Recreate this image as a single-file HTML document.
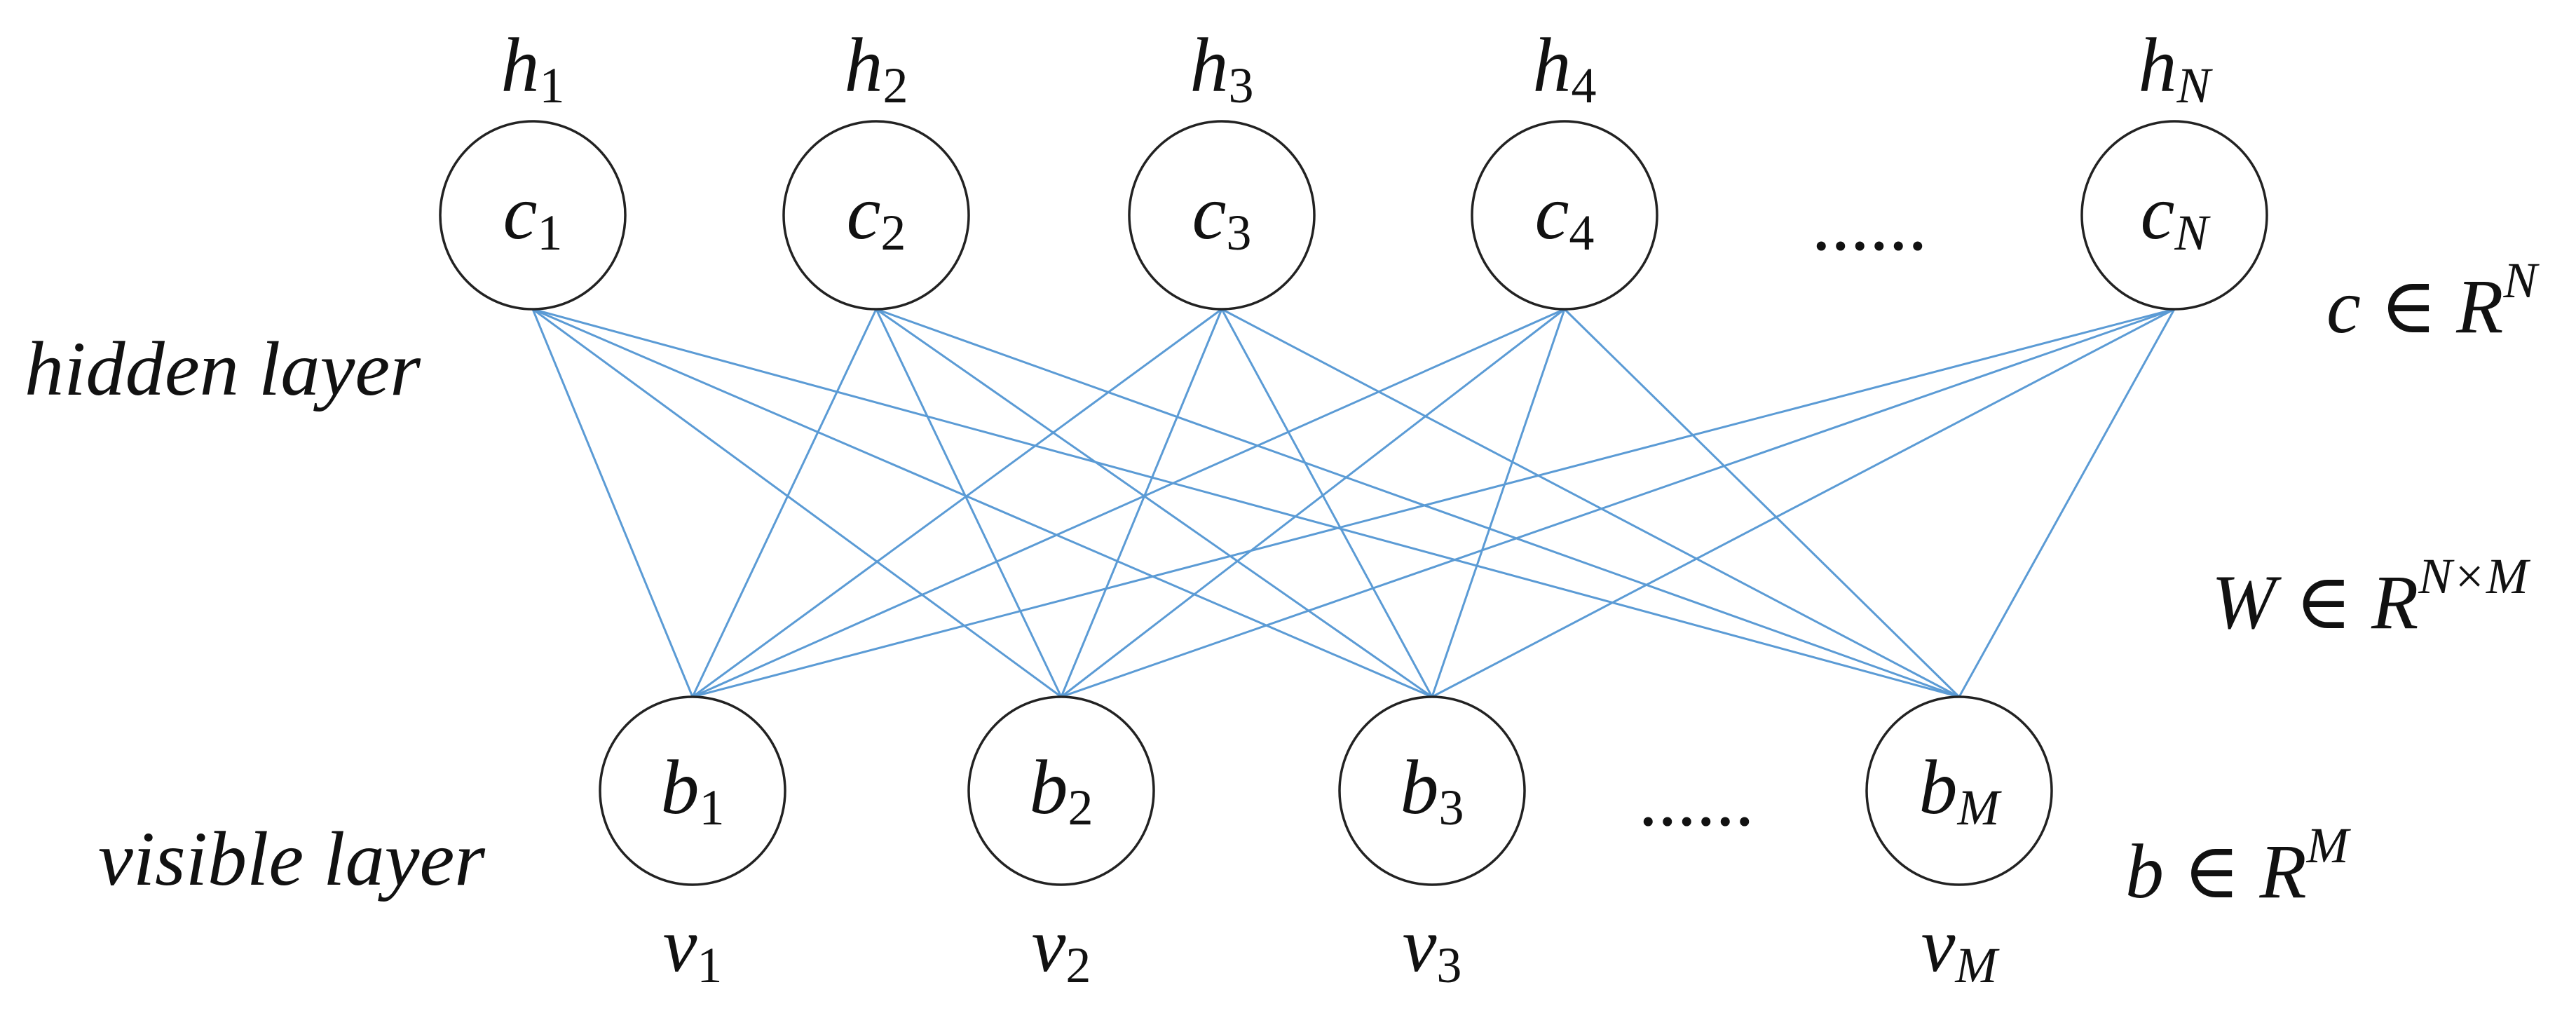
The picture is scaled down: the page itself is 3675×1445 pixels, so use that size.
<!DOCTYPE html>
<html><head><meta charset="utf-8"><style>html,body{margin:0;padding:0;background:#fff}svg{display:block}text,tspan{font-family:'Liberation Serif','DejaVu Serif',serif}.s{font-size:72px}</style></head>
<body>
<svg width="3675" height="1445" viewBox="0 0 3675 1445" xmlns="http://www.w3.org/2000/svg" font-size="110" font-family="'Liberation Serif', 'DejaVu Serif', serif">
<g stroke="#5b9bd5" stroke-width="3">
<line x1="760" y1="441" x2="988" y2="994"/><line x1="760" y1="441" x2="1514" y2="994"/><line x1="760" y1="441" x2="2043" y2="994"/><line x1="760" y1="441" x2="2795" y2="994"/>
<line x1="1250" y1="441" x2="988" y2="994"/><line x1="1250" y1="441" x2="1514" y2="994"/><line x1="1250" y1="441" x2="2043" y2="994"/><line x1="1250" y1="441" x2="2795" y2="994"/>
<line x1="1743" y1="441" x2="988" y2="994"/><line x1="1743" y1="441" x2="1514" y2="994"/><line x1="1743" y1="441" x2="2043" y2="994"/><line x1="1743" y1="441" x2="2795" y2="994"/>
<line x1="2232" y1="441" x2="988" y2="994"/><line x1="2232" y1="441" x2="1514" y2="994"/><line x1="2232" y1="441" x2="2043" y2="994"/><line x1="2232" y1="441" x2="2795" y2="994"/>
<line x1="3102" y1="441" x2="988" y2="994"/><line x1="3102" y1="441" x2="1514" y2="994"/><line x1="3102" y1="441" x2="2043" y2="994"/><line x1="3102" y1="441" x2="2795" y2="994"/>
</g>
<g fill="none" stroke="#222" stroke-width="3.5">
<ellipse cx="760" cy="307" rx="132" ry="134"/><ellipse cx="1250" cy="307" rx="132" ry="134"/><ellipse cx="1743" cy="307" rx="132" ry="134"/><ellipse cx="2232" cy="307" rx="132" ry="134"/><ellipse cx="3102" cy="307" rx="132" ry="134"/>
<ellipse cx="988" cy="1128" rx="132" ry="134"/><ellipse cx="1514" cy="1128" rx="132" ry="134"/><ellipse cx="2043" cy="1128" rx="132" ry="134"/><ellipse cx="2795" cy="1128" rx="132" ry="134"/>
</g>
<g fill="#111" text-anchor="middle">
<text x="760" y="130"><tspan font-style="italic">h</tspan><tspan class="s" dy="16">1</tspan></text>
<text x="1250" y="130"><tspan font-style="italic">h</tspan><tspan class="s" dy="16">2</tspan></text>
<text x="1743" y="130"><tspan font-style="italic">h</tspan><tspan class="s" dy="16">3</tspan></text>
<text x="2232" y="130"><tspan font-style="italic">h</tspan><tspan class="s" dy="16">4</tspan></text>
<text x="3102" y="130"><tspan font-style="italic">h</tspan><tspan class="s" font-style="italic" dy="16">N</tspan></text>
<text x="760" y="340"><tspan font-style="italic">c</tspan><tspan class="s" dy="16">1</tspan></text>
<text x="1250" y="340"><tspan font-style="italic">c</tspan><tspan class="s" dy="16">2</tspan></text>
<text x="1743" y="340"><tspan font-style="italic">c</tspan><tspan class="s" dy="16">3</tspan></text>
<text x="2232" y="340"><tspan font-style="italic">c</tspan><tspan class="s" dy="16">4</tspan></text>
<text x="3102" y="340"><tspan font-style="italic">c</tspan><tspan class="s" font-style="italic" dy="16">N</tspan></text>
<text x="988" y="1160"><tspan font-style="italic">b</tspan><tspan class="s" dy="16">1</tspan></text>
<text x="1514" y="1160"><tspan font-style="italic">b</tspan><tspan class="s" dy="16">2</tspan></text>
<text x="2043" y="1160"><tspan font-style="italic">b</tspan><tspan class="s" dy="16">3</tspan></text>
<text x="2795" y="1160"><tspan font-style="italic">b</tspan><tspan class="s" font-style="italic" dy="16">M</tspan></text>
<text x="988" y="1385"><tspan font-style="italic">v</tspan><tspan class="s" dy="16">1</tspan></text>
<text x="1514" y="1385"><tspan font-style="italic">v</tspan><tspan class="s" dy="16">2</tspan></text>
<text x="2043" y="1385"><tspan font-style="italic">v</tspan><tspan class="s" dy="16">3</tspan></text>
<text x="2795" y="1385"><tspan font-style="italic">v</tspan><tspan class="s" font-style="italic" dy="16">M</tspan></text>
<text x="2667" y="356">......</text>
<text x="2420" y="1177">......</text>
</g>
<g fill="#111">
<text x="35" y="563" font-style="italic" textLength="565" lengthAdjust="spacingAndGlyphs">hidden layer</text>
<text x="140" y="1262" font-style="italic" textLength="552" lengthAdjust="spacingAndGlyphs">visible layer</text>
<text x="3319" y="474"><tspan font-style="italic">c</tspan> ∈ <tspan font-style="italic">R</tspan><tspan class="s" font-style="italic" dy="-50">N</tspan></text>
<text x="3155" y="896"><tspan font-style="italic">W</tspan> ∈ <tspan font-style="italic">R</tspan><tspan class="s" font-style="italic" dy="-50">N×M</tspan></text>
<text x="3032" y="1280"><tspan font-style="italic">b</tspan> ∈ <tspan font-style="italic">R</tspan><tspan class="s" font-style="italic" dy="-50">M</tspan></text>
</g>
</svg>
</body></html>
